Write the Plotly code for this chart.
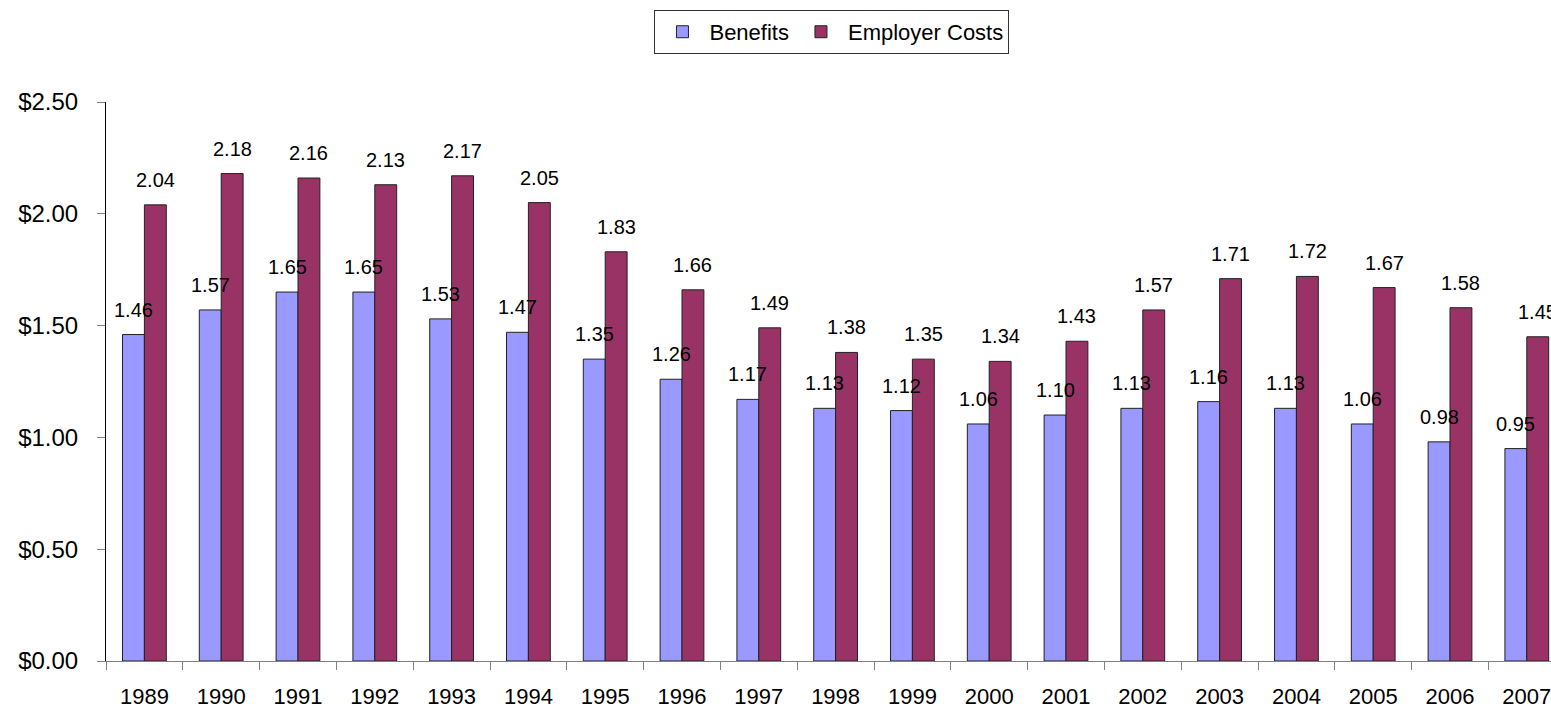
import plotly.graph_objects as go

years = [str(y) for y in range(1989, 2008)]
benefits = [1.46, 1.57, 1.65, 1.65, 1.53, 1.47, 1.35, 1.26, 1.17, 1.13, 1.12, 1.06, 1.10, 1.13, 1.16, 1.13, 1.06, 0.98, 0.95]
employer_costs = [2.04, 2.18, 2.16, 2.13, 2.17, 2.05, 1.83, 1.66, 1.49, 1.38, 1.35, 1.34, 1.43, 1.57, 1.71, 1.72, 1.67, 1.58, 1.45]
y_ticks = [0, 0.5, 1.0, 1.5, 2.0, 2.5]

FONT = "Liberation Sans, Arial, sans-serif"
BLUE = "#9999FF"
PLUM = "#993366"
BARGAP = 0.43

fig = go.Figure()
fig.add_trace(go.Bar(x=years, y=benefits, name="Benefits",
                     marker=dict(color=BLUE, line=dict(color="#222222", width=1))))
fig.add_trace(go.Bar(x=years, y=employer_costs, name="Employer Costs",
                     marker=dict(color=PLUM, line=dict(color="#222222", width=1))))

off = (1 - BARGAP) / 4
for i, (b, e) in enumerate(zip(benefits, employer_costs)):
    for val, dx in ((b, -off), (e, off)):
        fig.add_annotation(x=i + dx, y=val, xref="x", yref="y", text=f"{val:.2f}",
                           showarrow=False, yanchor="bottom", yshift=12,
                           font=dict(family=FONT, size=20, color="black"))

fig.update_layout(
    width=1551, height=710,
    margin=dict(l=106, r=0, t=102, b=49),
    paper_bgcolor="white", plot_bgcolor="white",
    barmode="group", bargap=BARGAP, bargroupgap=0,
    font=dict(family=FONT, size=22, color="black"),
    showlegend=True,
    legend=dict(orientation="h", xref="container", yref="container",
                x=0.5364, y=0.986, xanchor="center", yanchor="top",
                bordercolor="#333333", borderwidth=1, bgcolor="white",
                itemwidth=44,
                font=dict(family=FONT, size=22, color="black"),
                traceorder="normal"),
)
fig.update_xaxes(type="category", range=[-0.5, 18.315], tickson="boundaries",
                 ticks="outside", ticklen=8, tickcolor="#808080",
                 showline=True, linecolor="#808080", linewidth=1,
                 showgrid=False, zeroline=False, automargin=False,
                 ticklabelstandoff=16,
                 tickfont=dict(family=FONT, size=22, color="black"))
fig.update_yaxes(range=[0, 2.5], tickvals=y_ticks, tickformat="$.2f",
                 ticks="outside", ticklen=8, tickcolor="#808080",
                 showline=True, linecolor="black", linewidth=1,
                 showgrid=False, zeroline=False, automargin=False,
                 ticklabelstandoff=14,
                 tickfont=dict(family=FONT, size=24, color="black"))

fig.write_html("out.html", config={"displayModeBar": False},
               post_script="document.body.style.margin='0';document.body.style.overflow='hidden';")
